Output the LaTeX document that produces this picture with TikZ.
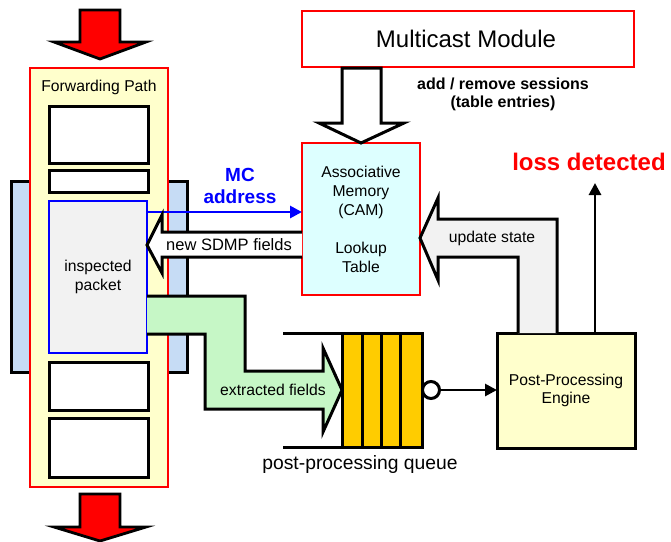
\documentclass[tikz,border=0pt]{standalone}
\usepackage{fontspec}
\setmainfont{Liberation Sans}
\usetikzlibrary{arrows.meta}
\definecolor{fpyellow}{HTML}{FFFFCC}
\definecolor{backblue}{HTML}{C6DCF5}
\definecolor{pktgray}{HTML}{F2F2F2}
\definecolor{camcyan}{HTML}{DDFFFF}
\definecolor{qyellow}{HTML}{FFCC00}
\definecolor{flowgreen}{HTML}{C6F7C6}
\tikzset{
 blk/.style={draw=black, line width=3pt},
 redbox/.style={draw=red, line width=2.4pt},
 txt/.style={font=\fontsize{15.7}{18.5}\selectfont, align=center, inner sep=0},
 bx/.style={inner sep=0, outer sep=0, anchor=north west},
 hollow/.style={draw=black, line width=3pt, line join=miter},
 bigarrow/.style={draw=black, fill=red, line width=2.8pt, line join=miter},
}
\begin{document}
\begin{tikzpicture}[x=1pt,y=-1pt]
\useasboundingbox (0,0) rectangle (671,541);

% forwarding path
\node[bx, blk, fill=backblue, minimum width=176, minimum height=191] (back) at (11,181) {};
\node[bx, redbox, fill=fpyellow, minimum width=138, minimum height=419] (fp) at (30,68) {};
\node[txt] (fplabel) at (99,87) {Forwarding Path};
\node[bx, blk, fill=white, minimum width=99, minimum height=57] (b1) at (49,106) {};
\node[bx, blk, fill=white, minimum width=99, minimum height=22] (b2) at (49,170) {};
\node[bx, draw=blue, line width=2.8pt, fill=pktgray, minimum width=98, minimum height=152, txt] (pkt) at (49,201) {inspected\\packet};
\node[bx, blk, fill=white, minimum width=99, minimum height=48] (b4) at (49,362) {};
\node[bx, blk, fill=white, minimum width=99, minimum height=59] (b5) at (49,418) {};

% red in/out arrows
\path[bigarrow] (80,10) -- (120,10) -- (120,42) -- (146,42) -- (100,59) -- (54,42) -- (80,42) -- cycle;
\path[bigarrow] (80,494) -- (120,494) -- (120,527) -- (146,527) -- (100,541) -- (54,527) -- (80,527) -- cycle;

% multicast module
\node[bx, redbox, fill=white, minimum width=332, minimum height=56] (mm) at (302,11) {};
\node[font=\fontsize{24}{28}\selectfont, inner sep=0] (mmlabel) at ([xshift=-2]mm.center) {Multicast Module};
\node[font=\bfseries\fontsize{16}{18}\selectfont, align=center, inner sep=0] (addrem) at (503,94) {add / remove sessions\\(table entries)};

% CAM
\node[bx, redbox, fill=camcyan, minimum width=118, minimum height=152] (cam) at (302,143) {};
\node[txt, font=\fontsize{15.7}{19}\selectfont] (camlabel) at (cam.center) {Associative\\Memory\\(CAM)\\[19pt]Lookup\\Table};

% hollow arrow down
\path[hollow, fill=white] (342,68) -- (381,68) -- (381,123) -- (404,123) -- (cam.north) -- (319,123) -- (342,123) -- cycle;

% engine
\node[bx, blk, fill=fpyellow, minimum width=138, minimum height=115] (eng) at (497,333) {};
\node[txt] (englabel) at (eng.center) {Post-Processing\\Engine};

% loss detected
\node[font=\bfseries\fontsize{24}{28}\selectfont, text=red, inner sep=0] (loss) at (589,162) {loss detected};
\coordinate (losstip) at (595,183);
\draw[line width=2.8pt, -{Triangle[length=12pt, width=12pt]}] (eng.north -| losstip) -- (losstip);

% update state arrow
\fill[pktgray] (422,238) -- (438,198) -- (438,219) -- (557,219) -- (557,333) -- (518,333) -- (518,257) -- (438,257) -- (438,280) -- cycle;
\draw[hollow] (518,333) -- (518,257) -- (438,257) -- (438,280) -- (cam.east |- 0,238) -- (438,198) -- (438,219) -- (557,219) -- (557,333);
\node[txt] (updlabel) at (492,238) {update state};

% MC address
\draw[draw=blue, line width=2.8pt, -{Triangle[length=12pt, width=12pt]}] (pkt.east |- 0,212) -- (cam.west |- 0,212);
\node[font=\bfseries\fontsize{19}{22}\selectfont, text=blue, align=center, inner sep=0] (mclabel) at (240,186) {MC\\address};

% new SDMP fields arrow
\fill[white] (302,232) -- (162,232) -- (162,215) -- (148,245) -- (162,273) -- (162,257) -- (302,257) -- cycle;
\draw[hollow] (cam.west |- 0,232) -- (162,232) -- (162,215) -- (pkt.east |- 0,245) -- (162,273) -- (162,257) -- (cam.west |- 0,257);
\node[txt, font=\fontsize{16.5}{19}\selectfont] (sdmplabel) at (229,245) {new SDMP fields};

% queue
\draw[line width=3pt] (283,333) -- (422,333);
\draw[line width=3pt] (283,447) -- (422,447);
\node[bx, blk, fill=qyellow, minimum width=20, minimum height=114] (q1) at (342,333) {};
\node[bx, blk, fill=qyellow, minimum width=19, minimum height=114] (q2) at (362,333) {};
\node[bx, blk, fill=qyellow, minimum width=19, minimum height=114] (q3) at (381,333) {};
\node[bx, blk, fill=qyellow, minimum width=22, minimum height=114] (q4) at (400,333) {};
\node[circle, blk, fill=white, minimum size=17, inner sep=0] (qout) at (431,390) {};
\draw[line width=2.8pt, -{Triangle[length=12pt, width=12pt]}] (qout.east) -- (eng.west |- qout);
\node[font=\fontsize{19.3}{22}\selectfont, inner sep=0] (qlabel) at (360,465) {post-processing queue};

% extracted fields arrow
\fill[flowgreen] (147,296) -- (245,296) -- (245,371) -- (323,371) -- (323,348) -- (342,390) -- (323,432) -- (323,409) -- (205,409) -- (205,334) -- (147,334) -- cycle;
\draw[hollow] (pkt.east |- 0,296) -- (245,296) -- (245,371) -- (323,371) -- (323,348) -- (q1.west |- qout) -- (323,432) -- (323,409) -- (205,409) -- (205,334) -- (pkt.east |- 0,334);
\node[txt] (extlabel) at (273,390) {extracted fields};
\end{tikzpicture}
\end{document}
